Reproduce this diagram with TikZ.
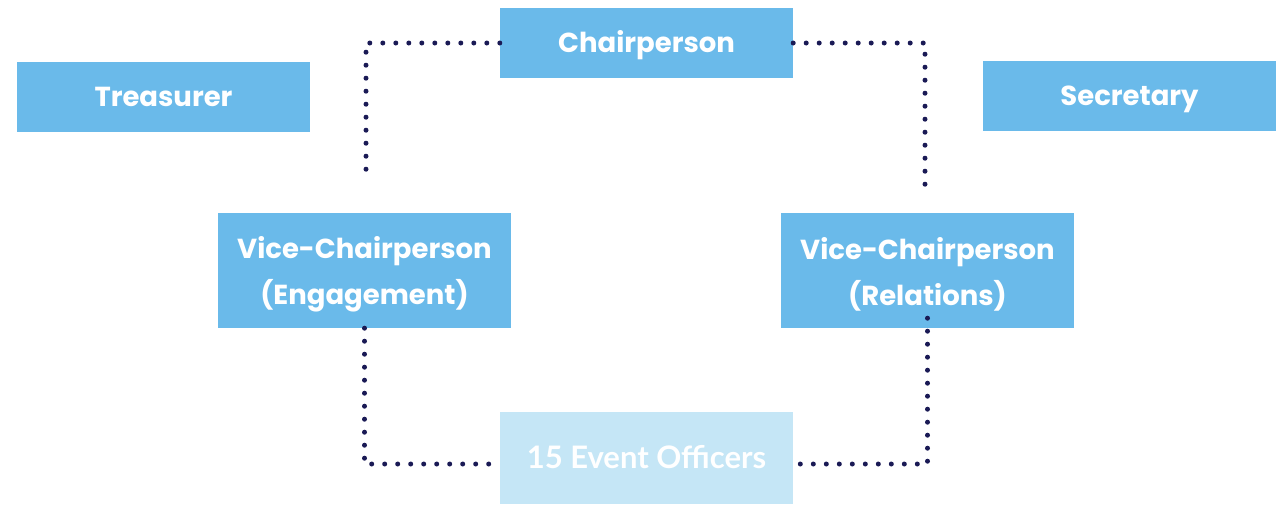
\documentclass[tikz,border=0pt]{standalone}
\usepackage{fontspec}
\setmainfont{Poppins}
\newfontfamily\latofont{Lato}
\definecolor{boxblue}{HTML}{6ABAEA}
\definecolor{paleblue}{HTML}{C5E6F6}
\definecolor{dotnavy}{HTML}{1A1A55}
\begin{document}
\begin{tikzpicture}[x=1pt,y=-1pt,
  rolebox/.style={fill=boxblue, draw=none, minimum width=293pt, text=white, align=center, inner sep=0pt, font=\fontsize{27.5}{46}\selectfont\bfseries},
  oneline/.style={rolebox, minimum height=70pt, text height=19.5pt, text depth=0pt},
  dotline/.style={draw=dotnavy, line width=5pt, line cap=round, dash pattern=on 0pt off 13pt}]
\useasboundingbox (0,0) rectangle (1281,504);
\node[oneline] (chair) at (646.5,43) {Chairperson};
\node[oneline] (treas) at (163.5,97) {Treasurer};
\node[oneline] (sec) at (1129.5,96) {Secretary};
\node[rolebox, minimum height=115pt] (ve) at (364.5,270.5) {\rule{0pt}{29pt}Vice-Chairperson\\(Engagement)};
\node[rolebox, minimum height=115pt] (vr) at (927.5,270.5) {\rule{0pt}{29pt}Vice-Chairperson\\(Relations)};
\node[fill=paleblue, minimum width=293pt, minimum height=92pt, inner sep=0pt, text=white, text height=21.5pt, text depth=0pt, font=\latofont\bfseries\fontsize{31}{34}\selectfont] (eo) at (646.5,458) {15 Event Officers};
\coordinate (tl) at (366,176);
\coordinate (tr) at (925,185);
\draw[dotline] (chair.west) -| (tl);
\draw[dotline] (chair.east) -| (tr);
\draw[dotline] (ve.south) |- ([yshift=-6pt]eo.west);
\draw[dotline] ([yshift=10pt]vr.south) |- ([yshift=-6pt]eo.east);
\end{tikzpicture}
\end{document}
